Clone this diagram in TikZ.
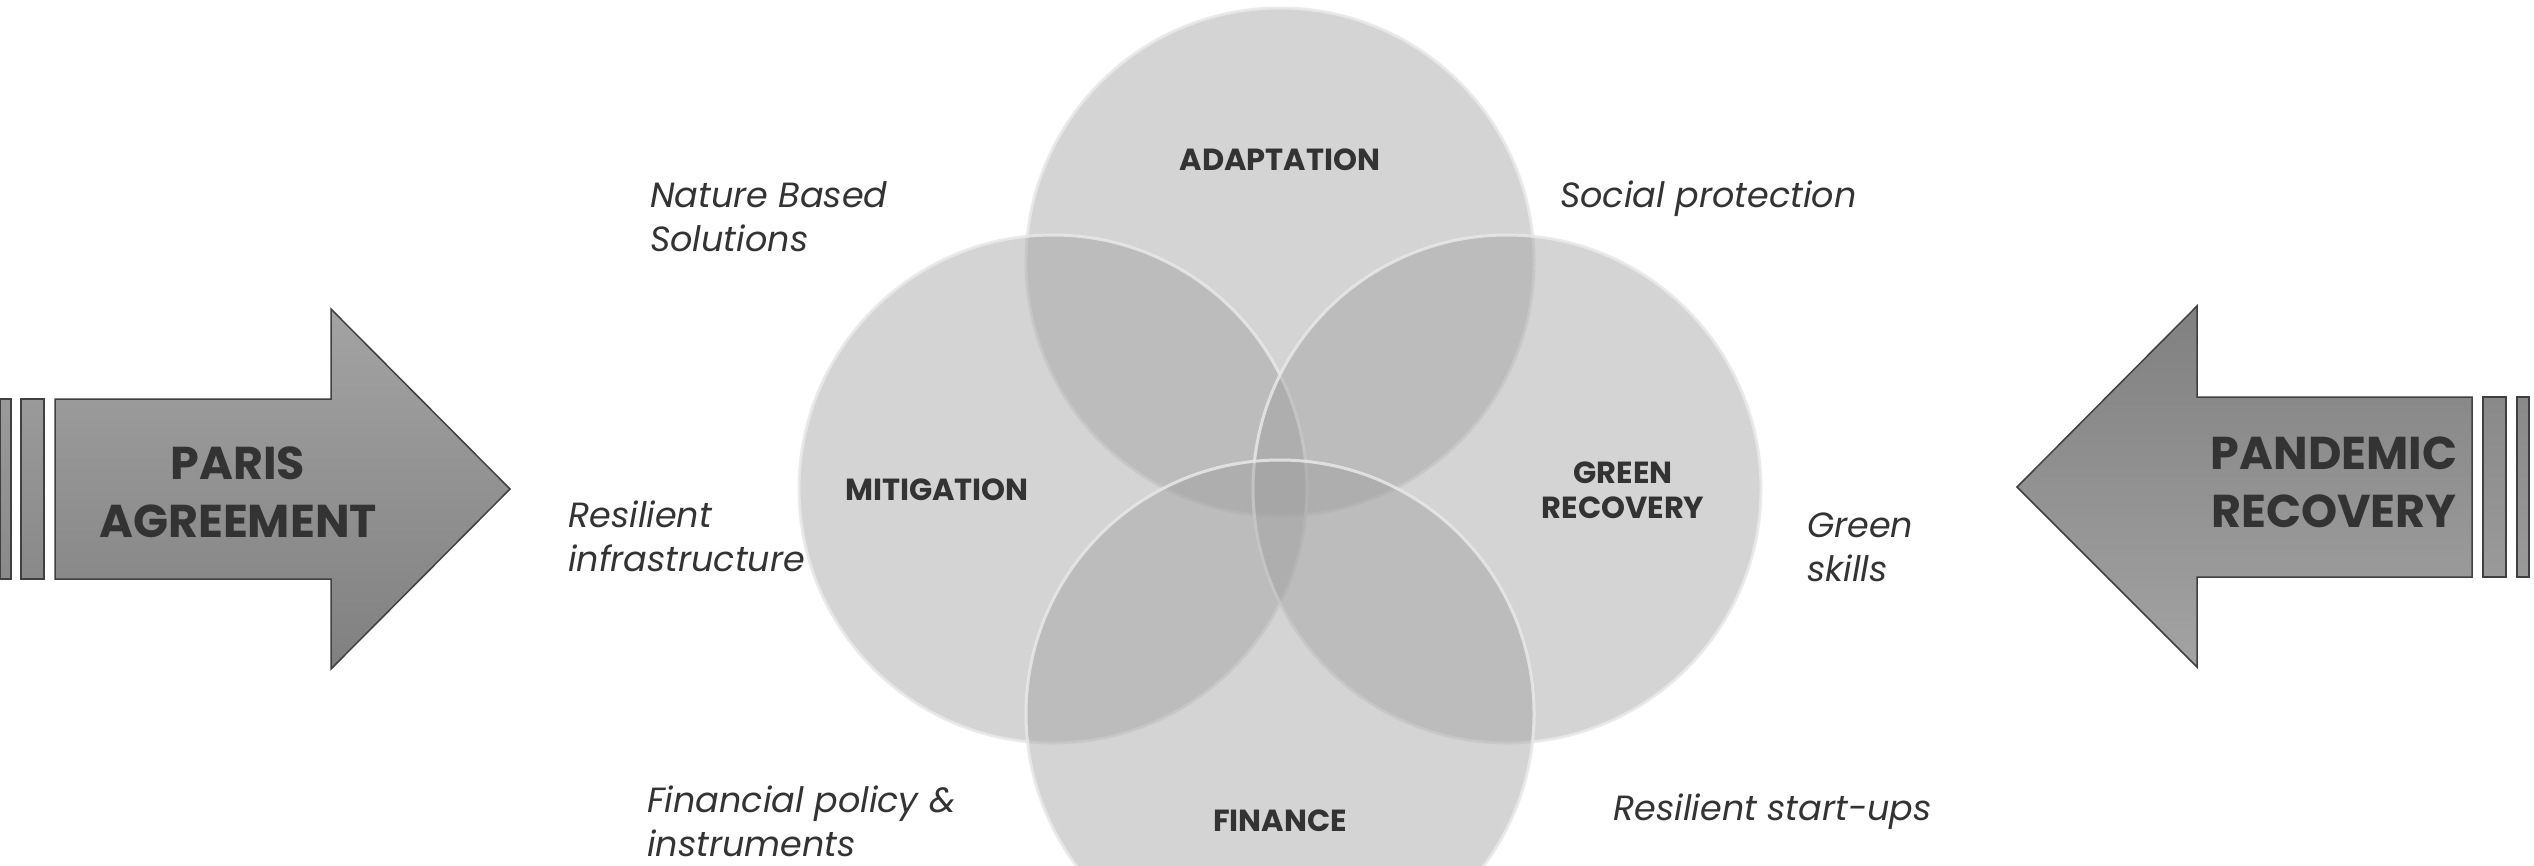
\documentclass[tikz,border=0pt]{standalone}
\usepackage{fontspec}
\setmainfont{Poppins}
\definecolor{vennfill}{RGB}{158,158,158}
\definecolor{vennedge}{RGB}{232,232,232}
\definecolor{txt}{RGB}{51,51,51}
\definecolor{arrowline}{RGB}{64,64,64}
\definecolor{gA}{RGB}{163,163,163}
\definecolor{gB}{RGB}{128,128,128}
\definecolor{gC}{RGB}{154,154,154}
\definecolor{gD}{RGB}{137,137,137}
\tikzset{
  venn/.style={circle, minimum size=508pt, inner sep=0pt, fill=vennfill, fill opacity=0.44,
    draw=vennedge, draw opacity=0.85, line width=3pt},
  hdr/.style={font=\bfseries\fontsize{30.5}{35}\selectfont, text=txt, align=center, inner sep=0pt, anchor=base},
  note/.style={font=\itshape\fontsize{35}{44}\selectfont, text=txt, align=left, inner sep=0pt, anchor=base west},
  big/.style={font=\bfseries\fontsize{46}{58}\selectfont, text=txt, align=center, inner sep=0pt, anchor=base},
  arrowbox/.style={draw=arrowline, line width=1.5pt, line join=miter},
}
\begin{document}
\begin{tikzpicture}[x=1pt, y=-1pt]
\useasboundingbox[fill=white] (0,0) rectangle (2534,865);

% Venn circles
\node[venn] (adapt) at (1280,262) {};
\node[venn] (mitig) at (1053,489) {};
\node[venn] (green) at (1507,489) {};
\node[venn] (fin) at (1280,714) {};

% circle titles (anchor = baseline of last line)
\node[hdr] (adaptT) at (1280,170) {ADAPTATION};
\node[hdr] (mitigT) at (937,500) {MITIGATION};
\node[hdr] (greenT) at (1623,518) {GREEN\\RECOVERY};
\node[hdr] (finT) at (1280,831) {FINANCE};

% italic notes
\node[note] (nbs) at (650,251) {Nature Based\\Solutions};
\node[note] (resinf) at (568,571) {Resilient\\infrastructure};
\node[note] (fpi) at (647,856) {Financial policy \&\\instruments};
\node[note] (socp) at (1560,207) {Social protection};
\node[note] (gskill) at (1807,581) {Green\\skills};
\node[note] (rstart) at (1613,820) {Resilient start-ups};

% left arrow
\draw[arrowbox, top color=gC, bottom color=gD] (0,399) rectangle (11,579);
\draw[arrowbox, top color=gC, bottom color=gD] (21,399) rectangle (44,579);
\draw[arrowbox, top color=gA, bottom color=gB]
  (55,399) -- (331,399) -- (331,309) -- (510,489) -- (331,669) -- (331,579) -- (55,579) -- cycle;
\node[big] (paris) at (238,537) {PARIS\\AGREEMENT};

% right arrow
\draw[arrowbox, top color=gD, bottom color=gC] (2483,397) rectangle (2506,577);
\draw[arrowbox, top color=gD, bottom color=gC] (2517,397) rectangle (2529,577);
\draw[arrowbox, top color=gB, bottom color=gA]
  (2472,397) -- (2197,397) -- (2197,306) -- (2017,487) -- (2197,667) -- (2197,577) -- (2472,577) -- cycle;
\node[big] (pandemic) at (2334,527) {PANDEMIC\\RECOVERY};
\end{tikzpicture}
\end{document}
